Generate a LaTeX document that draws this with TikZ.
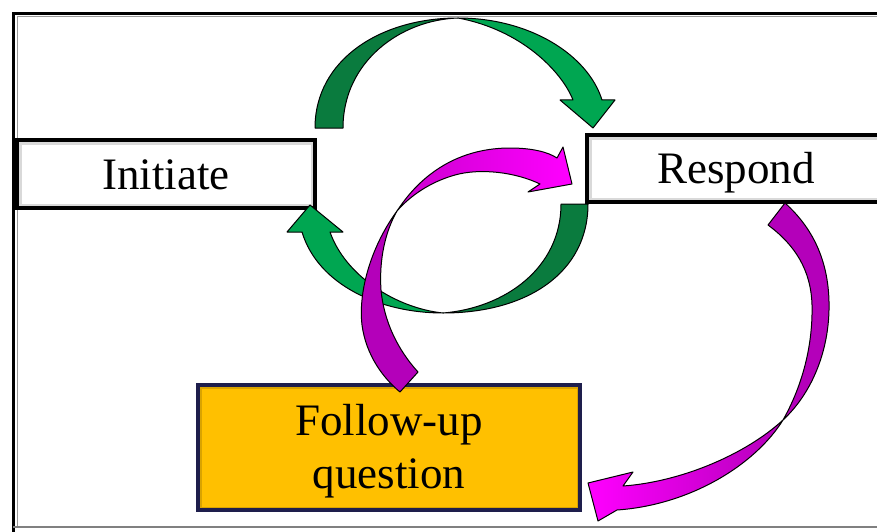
\documentclass[tikz,border=0pt]{standalone}
\usepackage{fontspec}
\setmainfont{Liberation Serif}
\definecolor{leafdark}{HTML}{0A7B3E}
\definecolor{leaflight}{HTML}{00A651}
\definecolor{plumdark}{HTML}{B400BA}
\definecolor{plumlight}{HTML}{FF00FF}
\definecolor{amber}{HTML}{FFC000}
\definecolor{inkblue}{HTML}{1E1E4C}
\tikzset{
	stage/.style={draw=black, line width=3.5pt, fill=white, minimum width=298pt, minimum height=68pt,
		text height=30.6pt, text depth=0pt, font=\fontsize{45}{53}\selectfont,
		path picture={\draw[black!15, line width=9pt] (path picture bounding box.south west) rectangle (path picture bounding box.north east);}},
	band/.style={draw=black, line width=1pt, line join=round}
}
\begin{document}
\begin{tikzpicture}[x=1pt, y=-1pt]
	\useasboundingbox (0,0) rectangle (877,532);
	\clip (0,0) rectangle (877,532);
	\draw[line width=3pt] (13.5,535) |- (890,13.5);
	\draw[black!40, line width=1pt] (17,527) |- (890,17);
	\draw[black!50, line width=1.5pt] (13,527) -- (890,527);
	\node[stage] (init) at (166,174) {Initiate};
	\node[stage, minimum height=67pt] (resp) at (736,168.5) {Respond};
	\node[draw=inkblue, line width=3.5pt, fill=amber, minimum width=382pt, minimum height=125pt, align=center,
		text depth=2pt, font=\fontsize{45}{53}\selectfont,
		path picture={\draw[amber!85!black, line width=7pt] (path picture bounding box.south west) rectangle (path picture bounding box.north east);}]
		(quest) at (389,447.5) {Follow-up\\question};
	\filldraw[band, fill=leafdark] (315,128) .. controls (315,60) and (380,18) .. (458,18) .. controls (400,20) and (343,62) .. (343,128) -- cycle;
	\filldraw[band, fill=leaflight] (458,18) .. controls (530,18) and (588,55) .. (602,100) -- (615,100) -- (593,128) -- (560,100) -- (573,100) .. controls (562,72) and (522,30) .. (458,18) -- cycle;
	\filldraw[band, fill=leafdark] (588,204) .. controls (588,272) and (528,313) .. (443,313) .. controls (505,308) and (561,268) .. (561,204) -- cycle;
	\filldraw[band, fill=leaflight] (443,313) .. controls (380,313) and (318,285) .. (302,232) -- (287,232) -- (310,205) -- (343,232) -- (330,232) .. controls (345,275) and (395,308) .. (443,313) -- cycle;
	\shadedraw[band, left color=plumdark!70!plumlight, right color=plumlight] (397,211) .. controls (425,168) and (465,148) .. (510,148) .. controls (532,148) and (548,152) .. (557,158) -- (563,147) -- (572,184) -- (528,192) -- (540,184) .. controls (515,172) and (480,168) .. (455,175) .. controls (430,182) and (410,196) .. (397,211) -- cycle;
	\filldraw[band, fill=plumdark] (397,211) .. controls (372,245) and (358,290) .. (362,325) .. controls (366,355) and (383,378) .. (400,392) -- (418,372) .. controls (398,350) and (384,322) .. (381,290) .. controls (379,260) and (385,232) .. (397,211) -- cycle;
	\filldraw[band, fill=plumdark] (785,203) .. controls (815,230) and (830,265) .. (829,310) .. controls (828,355) and (810,395) .. (783,420) .. controls (800,390) and (813,350) .. (812,305) .. controls (811,270) and (795,245) .. (768,225) -- cycle;
	\shadedraw[band, left color=plumlight, right color=plumdark] (783,420) .. controls (755,465) and (690,505) .. (617,510) -- (598,521) -- (588,483) -- (633,472) -- (623,486) .. controls (680,482) and (745,455) .. (783,420) -- cycle;
\end{tikzpicture}
\end{document}
